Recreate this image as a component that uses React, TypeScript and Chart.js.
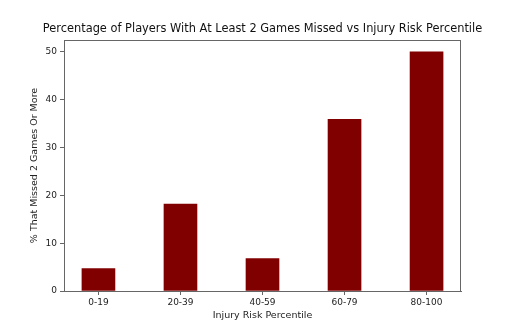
import React, { useEffect, useRef } from "react";
import { Chart, registerables } from "chart.js";

Chart.register(...registerables);

const categories = ["0-19", "20-39", "40-59", "60-79", "80-100"];
const values = [4.7, 18.2, 6.8, 35.9, 50.0];
const yTicks = [0, 10, 20, 30, 40, 50];
const chartTitle = "Percentage of Players With At Least 2 Games Missed vs Injury Risk Percentile";

const FONT = "'DejaVu Sans', sans-serif";

const framePlugin = {
  id: "frame",
  afterDraw(chart: any) {
    const { ctx, chartArea } = chart;
    ctx.save();
    ctx.strokeStyle = "#666666";
    ctx.lineWidth = 1;
    ctx.strokeRect(
      Math.round(chartArea.left) + 0.5,
      Math.round(chartArea.top) + 0.5,
      Math.round(chartArea.right - chartArea.left) - 1,
      Math.round(chartArea.bottom - chartArea.top)
    );
    ctx.fillStyle = "#111111";
    ctx.font = `11.4px ${FONT}`;
    ctx.textAlign = "center";
    ctx.textBaseline = "middle";
    ctx.fillText(chartTitle, (chartArea.left + chartArea.right) / 2, 29);
    ctx.restore();
  },
};

export default function App() {
  const ref = useRef<HTMLCanvasElement | null>(null);
  useEffect(() => {
    if (!ref.current) return;
    const chart = new Chart(ref.current, {
      type: "bar",
      data: {
        datasets: [
          {
            data: values.map((v, i) => ({ x: i, y: v })),
            backgroundColor: "#800000",
            borderWidth: 0,
            barThickness: 33,
          },
        ],
      },
      options: {
        animation: false,
        responsive: false,
        maintainAspectRatio: false,
        layout: { padding: { left: 0, right: 51, top: 40, bottom: 0 } },
        plugins: {
          legend: { display: false },
          tooltip: { enabled: false },
          title: { display: false },
        },
        scales: {
          x: {
            type: "linear",
            offset: false,
            min: -0.42,
            max: 4.42,
            afterBuildTicks: (scale: any) => {
              scale.ticks = categories.map((_, i) => ({ value: i }));
            },
            afterFit: (scale: any) => {
              scale.height = 36;
            },
            ticks: {
              callback: (v: any) => categories[v] ?? "",
              color: "#222222",
              font: { family: FONT, size: 9 },
              padding: 2,
              maxRotation: 0,
              autoSkip: false,
            },
            grid: {
              display: true,
              offset: false,
              drawOnChartArea: false,
              drawTicks: true,
              tickLength: 4,
              color: "#666666",
            },
            border: { display: true, color: "#666666" },
            title: {
              display: true,
              text: "Injury Risk Percentile",
              color: "#222222",
              font: { family: FONT, size: 9.5 },
              padding: { top: 0, bottom: 6 },
            },
          },
          y: {
            type: "linear",
            min: 0,
            max: 52.5,
            afterBuildTicks: (scale: any) => {
              scale.ticks = yTicks.map((v) => ({ value: v }));
            },
            afterFit: (scale: any) => {
              scale.width = 64;
            },
            ticks: {
              color: "#222222",
              font: { family: FONT, size: 9 },
              padding: 3,
            },
            grid: {
              display: true,
              drawOnChartArea: false,
              drawTicks: true,
              tickLength: 4,
              color: "#666666",
            },
            border: { display: true, color: "#666666" },
            title: {
              display: true,
              text: "% That Missed 2 Games Or More",
              color: "#222222",
              font: { family: FONT, size: 9.5 },
              padding: { top: 29, bottom: 0 },
            },
          },
        },
      },
      plugins: [framePlugin],
    });
    return () => chart.destroy();
  }, []);
  return (
    <div style={{ position: "fixed", left: 0, top: 0, width: 512, height: 327, background: "#fff" }}>
      <canvas ref={ref} width={512} height={327} style={{ width: 512, height: 327, display: "block" }} />
    </div>
  );
}
